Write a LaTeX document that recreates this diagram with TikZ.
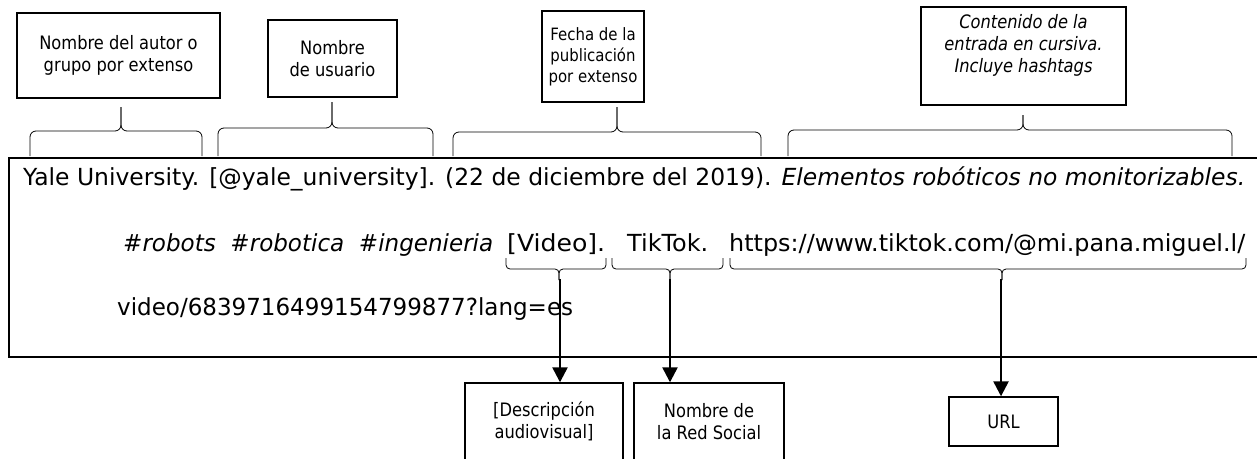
\documentclass[tikz,border=0pt]{standalone}
\usepackage{fontspec}
\usepackage{graphicx}
\usetikzlibrary{arrows.meta}
\newfontfamily\tahomalike{DejaVu Sans}[FakeStretch=0.88]
\newcommand{\bxfont}{\tahomalike\fontsize{18.5}{22}\selectfont}
\newcommand{\smbxfont}{\tahomalike\fontsize{17}{21}\selectfont}
\newcommand{\mnfont}{\tahomalike\fontsize{23.5}{26}\selectfont}
\newcommand{\fitw}[2]{\resizebox{#1pt}{\height}{#2}}
% brace: x1 x2 xm yflat ytip yend
\newcommand{\mybrace}[6]{%
  \draw[brc] (#1,#6) -- (#1,#4) -- (#3,#4) -- (#3,#5);
  \draw[brc] (#2,#6) -- (#2,#4) -- (#3,#4) -- (#3,#5);}
\begin{document}
\begin{tikzpicture}[x=1pt,y=-1pt,
  topbox/.style={draw, line width=1.4pt, align=center, font=\bxfont, inner sep=0pt},
  lowbox/.style={draw, line width=1.4pt, align=center, font=\bxfont, inner sep=0pt},
  mainbox/.style={draw, line width=2.2pt},
  txt/.style={anchor=base west, inner sep=0pt, font=\mnfont},
  brc/.style={line width=0.8pt, rounded corners=6pt},
  lbrc/.style={line width=0.8pt, rounded corners=4pt},
  arr/.style={line width=2.4pt, -{Triangle[width=15pt,length=15pt]}}]
\fill[white] (0,0) rectangle (1257,458);
\useasboundingbox (0,0) rectangle (1257,458);
\clip (0,0) rectangle (1257,458);

% top boxes
\node[topbox, minimum width=203pt, minimum height=85pt] (autor) at (118.5,55.5) {Nombre del autor o\\grupo por extenso};
\node[topbox, minimum width=129pt, minimum height=77pt] (usuario) at (332.5,58.5) {Nombre\\de usuario};
\node[topbox, minimum width=102pt, minimum height=91pt, font=\smbxfont] (fecha) at (593,56.5) {Fecha de la\\publicación\\por extenso};
\node[topbox, minimum width=205pt, minimum height=98pt, font=\bxfont\itshape] (contenido) at (1023.5,56) {Contenido de la\\entrada en cursiva.\\Incluye hashtags\\[4pt]};

% upper braces
\mybrace{30}{202}{121}{131}{107}{156}
\mybrace{218}{433}{332}{128}{102}{156}
\mybrace{453}{761}{617}{132}{107}{156}
\mybrace{788}{1232}{1023}{130}{115}{156}

% main box
\node[mainbox, anchor=north west, minimum width=1270pt, minimum height=199pt, inner sep=0pt] (ref) at (8,157) {};

% text lines
\node[txt] (l1) at (23,185) {\fitw{1222}{Yale University. [@yale\_university]. (22 de diciembre del 2019). \textit{Elementos robóticos no monitorizables.}}};
\node[txt] (l2a) at (123,251) {\fitw{370}{\textit{\#robots\ \ \#robotica\ \ \#ingenieria}}};
\node[txt] (l2b) at (507,251) {\fitw{98}{[Video].}};
\node[txt] (l2c) at (627,251) {\fitw{81}{TikTok.}};
\node[txt] (l2d) at (729,251) {\fitw{516}{https://www.tiktok.com/@mi.pana.miguel.l/}};
\node[txt] (l3) at (117,315) {\fitw{456}{video/6839716499154799877?lang=es}};

% lower braces
\draw[lbrc] (506,258) -- (506,269) -- (559,269) -- (559,280);
\draw[lbrc] (606,258) -- (606,269) -- (559,269) -- (559,280);
\draw[lbrc] (612,258) -- (612,269) -- (670,269) -- (670,280);
\draw[lbrc] (723,258) -- (723,269) -- (670,269) -- (670,280);
\draw[lbrc] (730,258) -- (730,269) -- (1002,269) -- (1002,280);
\draw[lbrc] (1246,258) -- (1246,269) -- (1002,269) -- (1002,280);
\coordinate (tipA) at (560,279);
\coordinate (tipB) at (670,279);
\coordinate (tipC) at (1001,279);

% lower boxes
\node[lowbox, minimum width=158pt, minimum height=77pt] (desc) at (544,421.5) {[Descripción\\audiovisual]};
\node[lowbox, minimum width=150pt, minimum height=77pt] (red) at (709,421.5) {Nombre de\\la Red Social};
\node[lowbox, minimum width=109pt, minimum height=49pt] (url) at (1003.5,421.5) {URL};

% arrows
\draw[arr] (tipA) -- (tipA |- desc.north);
\draw[arr] (tipB) -- (tipB |- red.north);
\draw[arr] (tipC) -- (tipC |- url.north);
\end{tikzpicture}
\end{document}
